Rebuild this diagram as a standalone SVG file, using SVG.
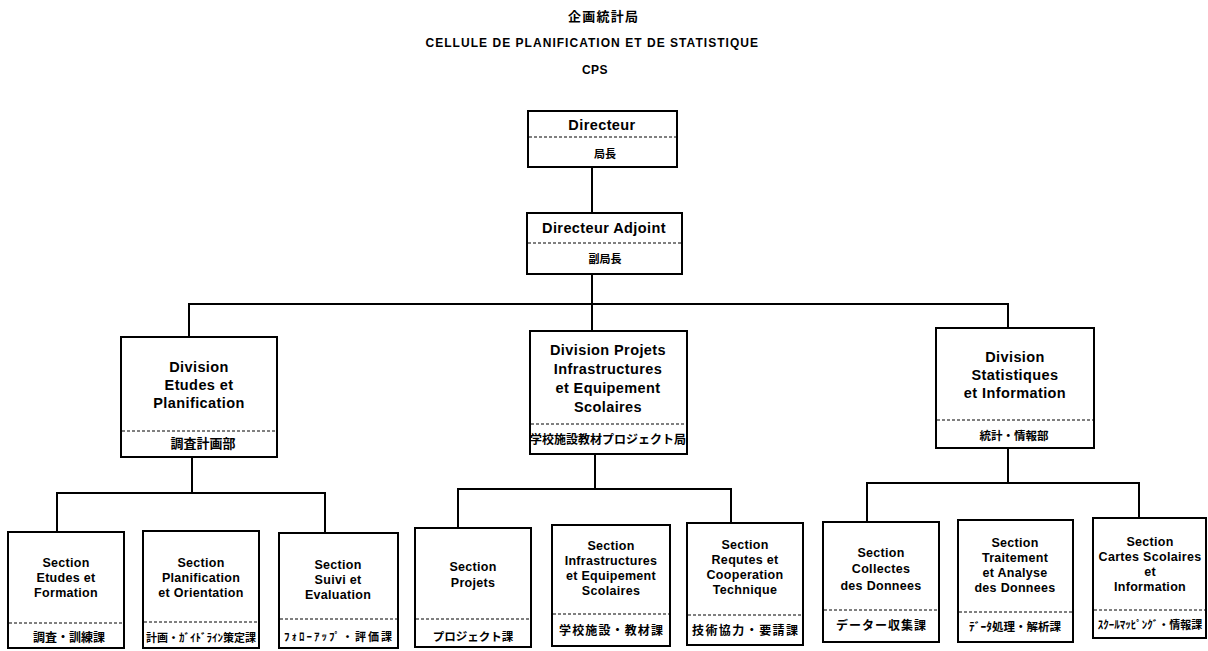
<svg xmlns="http://www.w3.org/2000/svg" width="1208" height="651" viewBox="0 0 1208 651">
<style>
.bg{fill:#fff}
.box{fill:#fff;stroke:#000;stroke-width:2}
.dv{stroke:#000;stroke-width:1;stroke-dasharray:3 2}
.conn{fill:none;stroke:#000;stroke-width:2}
.t{font-family:"Liberation Sans","Noto Sans CJK JP",sans-serif;font-weight:bold;text-anchor:middle;fill:#000}
.l{font-size:14.5px;letter-spacing:0.4px}
.s{font-size:12.5px;letter-spacing:0.3px}
.h{font-size:12px;letter-spacing:0.5px}
.jp{font-family:"Noto Sans CJK JP",sans-serif;font-weight:bold;text-anchor:middle;fill:#000;font-size:11px}
.j12{font-size:12px}
.j13{font-size:13px}
</style>
<rect class="bg" x="0" y="0" width="1208" height="651"/>
<g id="title">
<text class="jp j13" x="603" y="21" textLength="70">企画統計局</text>
<text class="t h" x="592" y="47" textLength="333">CELLULE DE PLANIFICATION ET DE STATISTIQUE</text>
<text class="t h" x="595" y="74">CPS</text>
</g>
<g id="connectors">
<path class="conn" d="M592 167V213"/>
<path class="conn" d="M592 274V331"/>
<path class="conn" d="M189 337V304H1008V328"/>
<path class="conn" d="M192 457V493"/>
<path class="conn" d="M57 532V493H325V533"/>
<path class="conn" d="M595 454V489"/>
<path class="conn" d="M458 528V489H731V523"/>
<path class="conn" d="M1008 448V483"/>
<path class="conn" d="M867 522V483H1139V518"/>
</g>
<g id="directeur">
<rect class="box" x="528" y="111" width="149" height="56"/>
<line class="dv" x1="529" y1="137" x2="676" y2="137"/>
<text class="t l" x="602" y="130">Directeur</text>
<text class="jp" x="605" y="158">局長</text>
</g>
<g id="directeur-adjoint">
<rect class="box" x="527" y="213" width="155" height="61"/>
<line class="dv" x1="528" y1="243" x2="681" y2="243"/>
<text class="t l" x="604" y="233">Directeur Adjoint</text>
<text class="jp" x="605" y="263">副局長</text>
</g>
<g id="div-etudes">
<rect class="box" x="121" y="337" width="156" height="120"/>
<line class="dv" x1="122" y1="431" x2="276" y2="431"/>
<text class="t l" x="199" y="372">Division</text>
<text class="t l" x="199" y="390">Etudes et</text>
<text class="t l" x="199" y="408">Planification</text>
<text class="jp j13" x="203" y="448">調査計画部</text>
</g>
<g id="div-projets">
<rect class="box" x="530" y="331" width="157" height="123"/>
<line class="dv" x1="531" y1="424" x2="686" y2="424"/>
<text class="t l" x="608" y="355">Division Projets</text>
<text class="t l" x="608" y="374">Infrastructures</text>
<text class="t l" x="608" y="393">et Equipement</text>
<text class="t l" x="608" y="412">Scolaires</text>
<text class="jp j12" x="608" y="444">学校施設教材プロジェクト局</text>
</g>
<g id="div-statistiques">
<rect class="box" x="936" y="328" width="158" height="120"/>
<line class="dv" x1="937" y1="420" x2="1093" y2="420"/>
<text class="t l" x="1015" y="362">Division</text>
<text class="t l" x="1015" y="380">Statistiques</text>
<text class="t l" x="1015" y="398">et Information</text>
<text class="jp" x="1014" y="440" style="font-size:11.5px">統計・情報部</text>
</g>
<g id="sec-etudes-formation">
<rect class="box" x="8" y="532" width="116" height="116"/>
<line class="dv" x1="9" y1="623" x2="123" y2="623"/>
<text class="t s" x="66" y="567">Section</text>
<text class="t s" x="66" y="582">Etudes et</text>
<text class="t s" x="66" y="597">Formation</text>
<text class="jp j12" x="69" y="642">調査・訓練課</text>
</g>
<g id="sec-planification">
<rect class="box" x="143" y="531" width="116" height="117"/>
<line class="dv" x1="144" y1="622" x2="258" y2="622"/>
<text class="t s" x="201" y="567">Section</text>
<text class="t s" x="201" y="582">Planification</text>
<text class="t s" x="201" y="597">et Orientation</text>
<text class="jp" x="201" y="642">計画・ｶﾞｲﾄﾞﾗｲﾝ策定課</text>
</g>
<g id="sec-suivi">
<rect class="box" x="279" y="533" width="119" height="115"/>
<line class="dv" x1="280" y1="619" x2="397" y2="619"/>
<text class="t s" x="338" y="569">Section</text>
<text class="t s" x="338" y="584">Suivi et</text>
<text class="t s" x="338" y="599">Evaluation</text>
<text class="jp" x="338" y="641" textLength="108">ﾌｫﾛｰｱｯﾌﾟ・評価課</text>
</g>
<g id="sec-projets">
<rect class="box" x="415" y="528" width="116" height="119"/>
<line class="dv" x1="416" y1="619" x2="530" y2="619"/>
<text class="t s" x="473" y="571">Section</text>
<text class="t s" x="473" y="587">Projets</text>
<text class="jp" x="473" y="641" style="font-size:11.5px">プロジェクト課</text>
</g>
<g id="sec-infrastructures">
<rect class="box" x="552" y="525" width="118" height="121"/>
<line class="dv" x1="553" y1="614" x2="669" y2="614"/>
<text class="t s" x="611" y="550">Section</text>
<text class="t s" x="611" y="565">Infrastructures</text>
<text class="t s" x="611" y="580">et Equipement</text>
<text class="t s" x="611" y="595">Scolaires</text>
<text class="jp j12" x="611" y="635" textLength="104">学校施設・教材課</text>
</g>
<g id="sec-requtes">
<rect class="box" x="687" y="523" width="116" height="122"/>
<line class="dv" x1="688" y1="615" x2="802" y2="615"/>
<text class="t s" x="745" y="549">Section</text>
<text class="t s" x="745" y="564">Requtes et</text>
<text class="t s" x="745" y="579">Cooperation</text>
<text class="t s" x="745" y="594">Technique</text>
<text class="jp j12" x="745" y="635" textLength="106">技術協力・要請課</text>
</g>
<g id="sec-collectes">
<rect class="box" x="823" y="522" width="116" height="120"/>
<line class="dv" x1="824" y1="610" x2="938" y2="610"/>
<text class="t s" x="881" y="557">Section</text>
<text class="t s" x="881" y="573">Collectes</text>
<text class="t s" x="881" y="590">des Donnees</text>
<text class="jp j12" x="881" y="630" textLength="90">データー収集課</text>
</g>
<g id="sec-traitement">
<rect class="box" x="958" y="520" width="115" height="122"/>
<line class="dv" x1="959" y1="612" x2="1072" y2="612"/>
<text class="t s" x="1015" y="547">Section</text>
<text class="t s" x="1015" y="562">Traitement</text>
<text class="t s" x="1015" y="577">et Analyse</text>
<text class="t s" x="1015" y="592">des Donnees</text>
<text class="jp" x="1015" y="631" style="font-size:11.5px">ﾃﾞｰﾀ処理・解析課</text>
</g>
<g id="sec-cartes">
<rect class="box" x="1093" y="518" width="113" height="120"/>
<line class="dv" x1="1094" y1="610" x2="1205" y2="610"/>
<text class="t s" x="1150" y="546">Section</text>
<text class="t s" x="1150" y="561">Cartes Scolaires</text>
<text class="t s" x="1150" y="576">et</text>
<text class="t s" x="1150" y="591">Information</text>
<text class="jp" x="1150" y="629">ｽｸｰﾙﾏｯﾋﾟﾝｸﾞ・情報課</text>
</g>
</svg>
